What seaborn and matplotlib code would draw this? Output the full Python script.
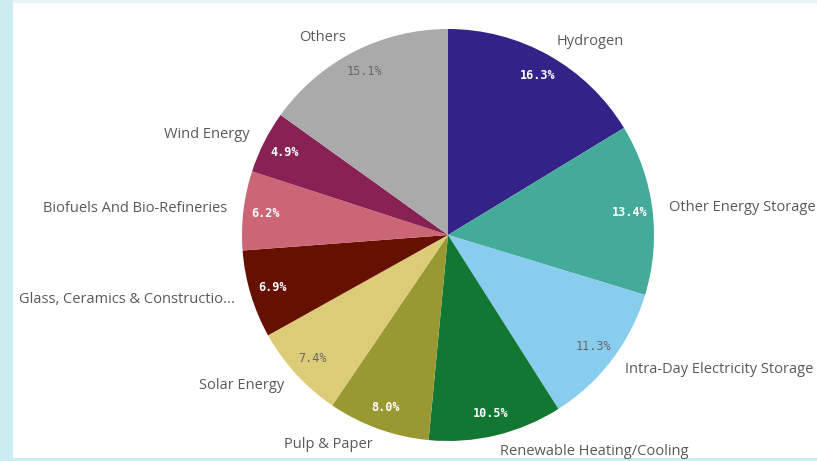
import matplotlib
matplotlib.use("Agg")
import matplotlib.pyplot as plt
import matplotlib.patches as mpatches
import seaborn as sns

categories = [
    "Hydrogen", "Other Energy Storage", "Intra-Day Electricity Storage",
    "Renewable Heating/Cooling", "Pulp & Paper", "Solar Energy",
    "Glass, Ceramics & Constructio...", "Biofuels And Bio-Refineries",
    "Wind Energy", "Others",
]
shares = [16.3, 13.4, 11.3, 10.5, 8.0, 7.4, 6.9, 6.2, 4.9, 15.1]
slice_colors = ["#332288", "#44aa99", "#88ccee", "#117733", "#999933",
                "#ddcc77", "#661100", "#cc6677", "#882255", "#aaaaaa"]
# slices whose percentage is drawn in dark grey instead of white
light_slices = {"Intra-Day Electricity Storage", "Solar Energy", "Others"}

sns.set_theme(style="white")
plt.rcParams["font.family"] = ["Open Sans", "DejaVu Sans"]

W, H = 817, 461
fig = plt.figure(figsize=(W / 100, H / 100), dpi=100)
fig.patch.set_facecolor("#cdecf1")
# white card with a thin tinted frame, like the dashboard tile
fig.patches.append(mpatches.Rectangle((13 / W, 3 / H), 1 - 13 / W, 1 - 6 / H,
                                      transform=fig.transFigure,
                                      facecolor="white", edgecolor="none",
                                      zorder=-2))
fig.patches.append(mpatches.Rectangle((13 / W, 1 - 3 / H), 1 - 13 / W, 3 / H,
                                      transform=fig.transFigure,
                                      facecolor="#e4f4f8", edgecolor="none",
                                      zorder=-2))

ax = fig.add_axes([0, 0, 1, 1])
ax.set_facecolor("none")
ax.set_zorder(1)

palette = sns.color_palette(slice_colors)
wedges, texts, autotexts = ax.pie(
    shares,
    labels=categories,
    colors=palette,
    startangle=90,
    counterclock=False,
    labeldistance=1.08,
    pctdistance=0.89,
    autopct=lambda p: f"{p:.1f}%",
    wedgeprops={"linewidth": 0},
    textprops={"fontsize": 10.5, "color": "#595959"},
)

for cat, t in zip(categories, autotexts):
    t.set_family("DejaVu Sans Mono")
    t.set_fontsize(8.5)
    if cat in light_slices:
        t.set_color("#666666")
    else:
        t.set_color("white")
        t.set_fontweight("bold")

# place the pie: centre at (448, 235) px, radius 206 px
r = 206
cx, cy = 448, 235
ax.set_xlim(-cx / r, (W - cx) / r)
ax.set_ylim(-(H - cy) / r, cy / r)
ax.set_aspect("equal")
ax.axis("off")

fig.savefig("out.png", dpi=100, facecolor=fig.get_facecolor())
